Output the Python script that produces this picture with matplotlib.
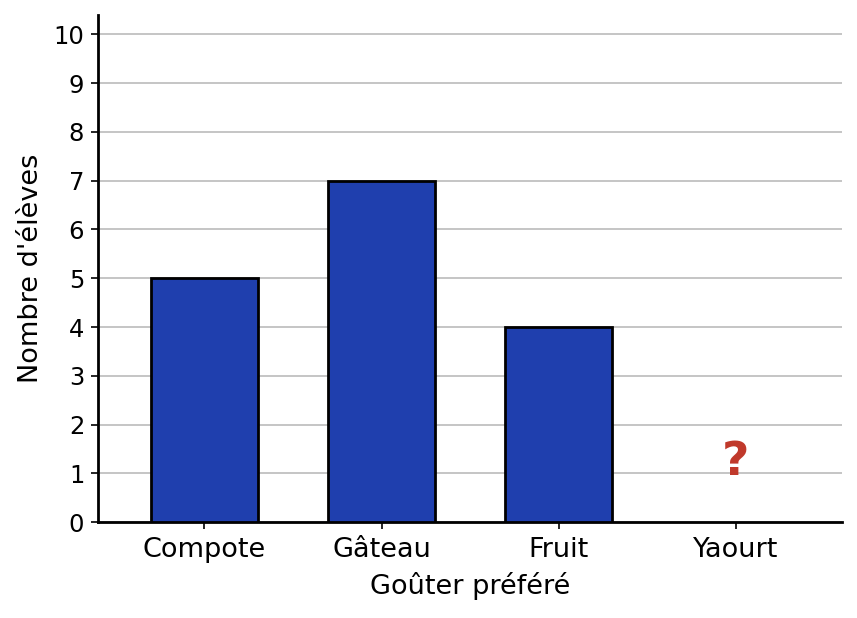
import matplotlib
matplotlib.use("Agg")
import matplotlib.pyplot as plt

categories = ["Compote", "Gâteau", "Fruit", "Yaourt"]
values = [5, 7, 4, 0]
missing_label = "?"
missing_index = 3
yticks = list(range(0, 11))

fig, ax = plt.subplots(figsize=(8.57, 6.18), dpi=100)
fig.subplots_adjust(left=0.1145, right=0.9825, top=0.976, bottom=0.155)

x = list(range(len(categories)))
ax.bar(x[:3], values[:3], width=0.6, color="#1f3fae", edgecolor="black", linewidth=2, zorder=3)
ax.text(x[missing_index], 1.22, missing_label, ha="center", va="center",
        fontsize=34, fontweight="bold", color="#c0392b", zorder=4)

ax.set_xticks(x)
ax.set_xticklabels(categories)
ax.set_yticks(yticks)
ax.set_ylim(0, 10.4)
ax.set_xlim(-0.6, 3.6)
ax.tick_params(axis="y", labelsize=17.5, width=1.2, length=5, pad=5)
ax.tick_params(axis="x", labelsize=19.5, width=1.2, length=5, pad=6)
ax.set_xlabel("Goûter préféré", fontsize=19.5, labelpad=6)
ax.set_ylabel("Nombre d'élèves", fontsize=19.5, labelpad=7)
ax.yaxis.grid(True, color="#c0c0c0", linewidth=1.3, zorder=0)
ax.set_axisbelow(True)
for s in ["top", "right"]:
    ax.spines[s].set_visible(False)
for s in ["left", "bottom"]:
    ax.spines[s].set_linewidth(2)

fig.savefig("out.png", dpi=100)
